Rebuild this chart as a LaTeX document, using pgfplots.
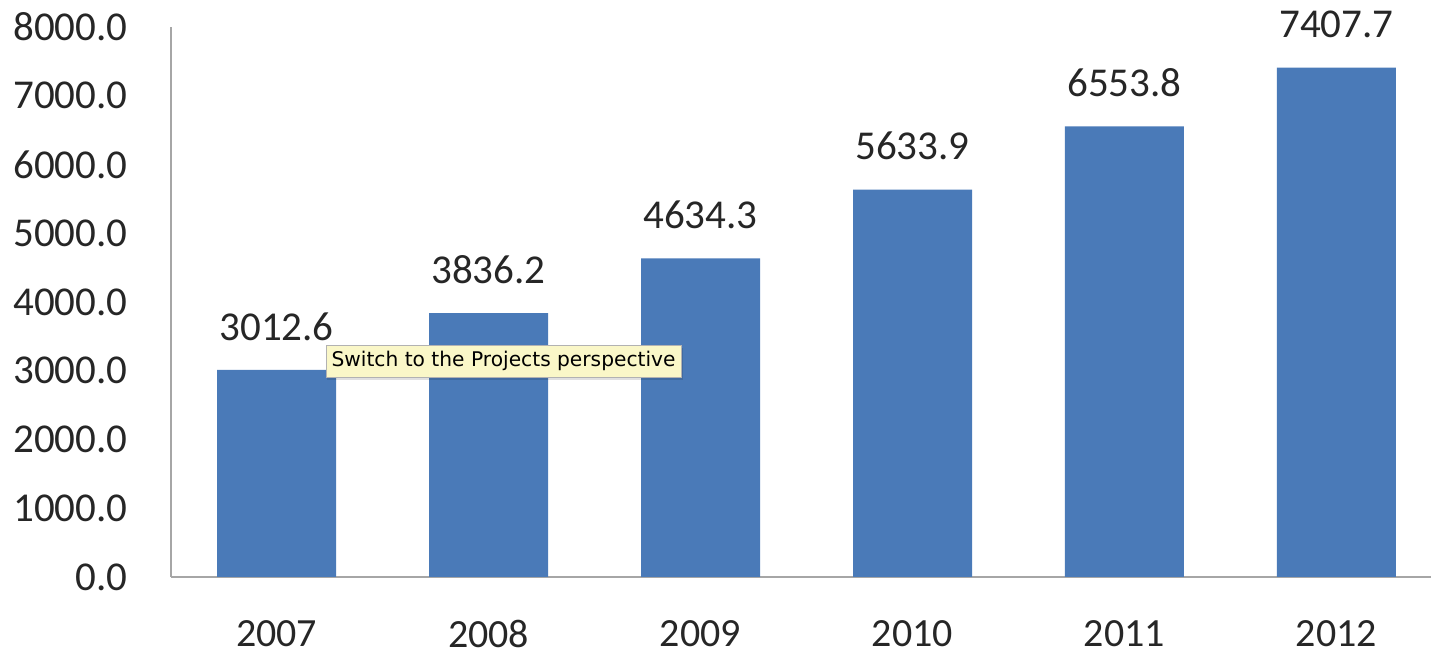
\documentclass[border=0pt]{standalone}
\usepackage{pgfplots}
\pgfplotsset{compat=1.18}
\usepackage{fontspec}
\setmainfont{Carlito}
\newfontfamily\tipfont{DejaVu Sans}
\definecolor{barblue}{HTML}{4A7AB8}
\definecolor{axisgray}{HTML}{A6A6A6}
\definecolor{txt}{HTML}{262626}
\definecolor{tipfill}{HTML}{FAF7C8}
\begin{document}
\begin{tikzpicture}
\begin{axis}[
  scale only axis,
  width=630bp, height=275bp,
  xmin=-0.498, xmax=5.446,
  ymin=0, ymax=8000,
  axis x line*=bottom, axis y line*=left,
  axis line style={axisgray, line width=1bp},
  ytick={0,1000,...,8000},
  xtick={0,1,2,3,4,5},
  xticklabels={2007,2008,2009,2010,2011,2012},
  major tick length=0pt,
  tick style={draw=none},
  /pgf/number format/assume math mode=true,
  yticklabel={\pgfmathprintnumber[fixed,fixed zerofill,precision=1,1000 sep={}]{\tick}},
  yticklabel style={font=\fontsize{20.5bp}{24bp}\selectfont, text=txt, inner sep=0pt, anchor=east, xshift=-21.5bp},
  xticklabel style={font=\fontsize{20bp}{24bp}\selectfont, text=txt, inner sep=0pt, anchor=north, yshift=-21.5bp},
  clip=false,
]
\addplot[ybar, bar width=59.5bp, fill=barblue, draw=none,
  nodes near coords={\pgfmathprintnumber[fixed,fixed zerofill,precision=1,1000 sep={}]{\pgfplotspointmeta}},
  nodes near coords style={font=\fontsize{20.5bp}{24bp}\selectfont, text=txt, inner sep=0pt, anchor=south, yshift=14.5bp},
  point meta=explicit]
  coordinates {(0,3012.6)[3012.6] (1,3836.2)[3836.2] (2,4634.3)[4634.3] (3,5633.9)[5633.9] (4,6553.8)[6553.8] (5,7407.7)[7407.7]};
\node[fill=black, opacity=0.12, minimum width=178bp, minimum height=16bp, inner sep=0pt] at ([xshift=0.5bp,yshift=-1.5bp]axis cs:1.0708,3141.8) {};
\node[fill=tipfill, draw=gray!60, line width=0.4bp, minimum width=177.5bp, minimum height=16bp, inner sep=0pt, text=black] at (axis cs:1.0708,3141.8) {\resizebox{172bp}{!}{\tipfont\fontsize{9bp}{11bp}\selectfont Switch to the Projects perspective}};
\end{axis}
\pgfresetboundingbox
\path[use as bounding box] ([xshift=-85.5bp,yshift=-39.5bp]current axis.south west) rectangle ([yshift=13.5bp]current axis.north east);
\end{tikzpicture}
\end{document}
